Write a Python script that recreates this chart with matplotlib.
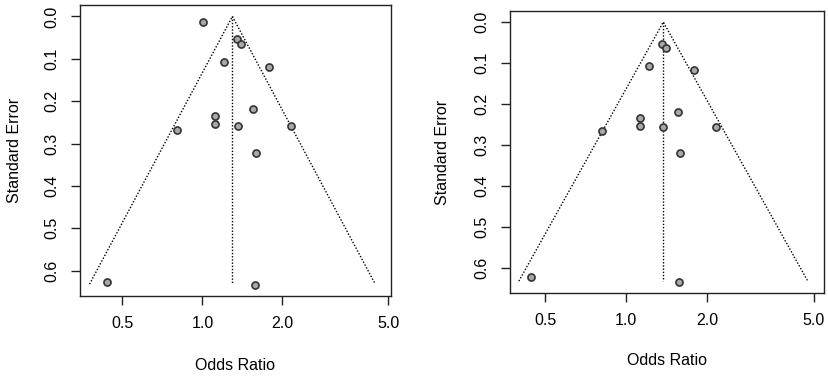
import numpy as np
import matplotlib
matplotlib.use('Agg')
import matplotlib.pyplot as plt

plt.rcParams['font.family'] = ['Liberation Sans', 'DejaVu Sans']

# left panel: all studies
or_left = [1.006, 1.351, 1.402, 1.207, 1.778, 1.548, 1.119, 1.119, 1.366, 2.151, 0.801, 1.597, 0.439, 1.575]
se_left = [0.014, 0.054, 0.065, 0.107, 0.120, 0.219, 0.234, 0.253, 0.258, 0.258, 0.267, 0.322, 0.626, 0.635]
pooled_left = 1.297

# right panel: one study removed
or_right = [1.359, 1.410, 1.218, 1.784, 1.555, 1.128, 1.128, 1.374, 2.154, 0.811, 1.590, 0.442, 1.577]
se_right = [0.054, 0.064, 0.106, 0.118, 0.219, 0.234, 0.254, 0.256, 0.256, 0.265, 0.320, 0.623, 0.634]
pooled_right = 1.374

se_max = 0.632
xticks = [0.5, 1.0, 2.0, 5.0]
yticks = [0.0, 0.1, 0.2, 0.3, 0.4, 0.5, 0.6]

fig = plt.figure(figsize=(8.29, 3.79), dpi=100)
W, H = 829.0, 379.0


def funnel(box, xs, ses, pooled, xlim, ylim, ylab_x):
    x0, y0, x1, y1 = box
    ax = fig.add_axes([x0 / W, 1 - y1 / H, (x1 - x0) / W, (y1 - y0) / H])
    ax.set_xscale('log')
    lo = pooled * np.exp(-1.96 * se_max)
    hi = pooled * np.exp(1.96 * se_max)
    ax.plot([lo, pooled, hi], [se_max, 0, se_max], color='black', lw=1.0, ls=(0, (1, 1.3)))
    ax.plot([pooled, pooled], [0, se_max], color='black', lw=1.0, ls=(0, (1, 1.3)))
    ax.scatter(xs, ses, s=26, facecolor='#a8a8a8', edgecolor='#333333', linewidths=1.2, zorder=3)
    ax.set_xlim(*xlim)
    ax.set_ylim(*ylim)
    ax.set_xticks(xticks)
    ax.set_xticklabels(['%.1f' % v for v in xticks])
    ax.xaxis.set_minor_locator(matplotlib.ticker.NullLocator())
    ax.set_yticks(yticks)
    ax.set_yticklabels(['%.1f' % v for v in yticks], rotation=90, va='center')
    ax.tick_params(axis='both', length=6.5, width=1.0, labelsize=11.5, pad=8, color='#222222')
    for s in ax.spines.values():
        s.set_linewidth(1.0)
        s.set_color('#222222')
    ax.set_xlabel('Odds Ratio', fontsize=11.5)
    ax.xaxis.set_label_coords(0.5, -0.24)
    ax.xaxis.label.set_va('center')
    ax.set_ylabel('Standard Error', fontsize=11.5)
    ax.yaxis.set_label_coords(ylab_x, 0.5)
    ax.yaxis.label.set_va('center')
    return ax


funnel((80, 5, 391, 296), or_left, se_left, pooled_left, (0.346, 5.13), (0.660, -0.027), -0.212)
funnel((510, 11, 824, 293), or_right, se_right, pooled_right, (0.369, 5.45), (0.661, -0.027), -0.214)

plt.savefig('out.png', dpi=100)
plt.close()
